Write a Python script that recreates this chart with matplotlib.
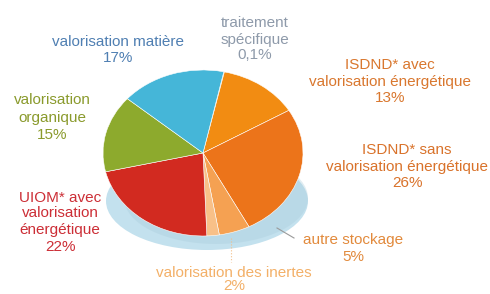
import matplotlib
matplotlib.use("Agg")
import matplotlib.pyplot as plt
from matplotlib.patches import Ellipse

# ---- data (clockwise from the top) ----
categories = ["traitement spécifique", "ISDND* avec valorisation énergétique",
              "ISDND* sans valorisation énergétique", "autre stockage",
              "valorisation des inertes", "UIOM* avec valorisation énergétique",
              "valorisation organique", "valorisation matière"]
values = [0.1, 13, 26, 5, 2, 22, 15, 17]
value_labels = ["0,1%", "13%", "26%", "5%", "2%", "22%", "15%", "17%"]

slice_colors = ["#9aa7b5", "#F28C12", "#EC741A", "#F5A152", "#F8C088",
                "#D22A20", "#8DAA2D", "#45B6D8"]

W, H = 490, 294
fig = plt.figure(figsize=(W / 100, H / 100), dpi=100)
ax = fig.add_axes([0, 0, 1, 1])

# pie centre / radii in pixels -> data units (x unit = RX px, y unit = RY px)
CX, CY, RX, RY = 203, 153, 100, 83


def px(x, y):
    return ((x - CX) / RX, (CY - y) / RY)


# shadow
ax.add_patch(Ellipse(px(207, 201), 2.02, 98 / RY, facecolor="#C3E1EE", edgecolor="none", zorder=1))
ax.add_patch(Ellipse(px(216, 198), 1.84, 92 / RY, facecolor="#A9CCDA", edgecolor="none",
                     zorder=1, alpha=0.35))

wedges, _ = ax.pie(values, colors=slice_colors, startangle=78, counterclock=False,
                   radius=1.0, center=(0, 0), frame=True,
                   wedgeprops=dict(edgecolor="#ffffff", linewidth=0.4))
for w in wedges:
    w.set_zorder(2)
ax.set_aspect("auto")
ax.set_xlim(-CX / RX, (W - CX) / RX)
ax.set_ylim(-(H - CY) / RY, CY / RY)
ax.axis("off")

FONT = "Liberation Sans"
FS = 11

# (lines, colour, x centre, line y positions) - layout only
layout = [
    (["valorisation matière", value_labels[7]], "#4F7FB2", 118, [42, 58]),
    (["traitement", "spécifique", value_labels[0]], "#8E9AAA", 255, [23, 40, 55]),
    (["ISDND* avec", "valorisation énergétique", value_labels[1]], "#D9772E", 390, [65, 82, 98]),
    (["ISDND* sans", "valorisation énergétique", value_labels[2]], "#D9722A", 407, [150, 167, 183]),
    (["valorisation", "organique", value_labels[6]], "#8A9A2C", 52, [100, 118, 135]),
    (["UIOM* avec", "valorisation", "énergétique", value_labels[5]], "#CC2E36", 60, [198, 213, 230, 247]),
    (["autre stockage", value_labels[3]], "#E28A3C", 353, [240, 257]),
    (["valorisation des inertes", value_labels[4]], "#F3B068", 234, [273, 286]),
]
for lines, col, xc, ys in layout:
    for t, y in zip(lines, ys):
        fig.text(xc / W, 1 - y / H, t, ha="center", va="center", fontsize=FS,
                 family=FONT, color=col)

# leader lines
ax.plot(*zip(px(277, 228), px(294, 238)), color="#9a9a9a", lw=0.8, zorder=3)
ax.plot(*zip(px(231, 238), px(231, 262)), color="#F3C08A", lw=0.8, ls=":", zorder=3)

fig.savefig("out.png", dpi=100)
